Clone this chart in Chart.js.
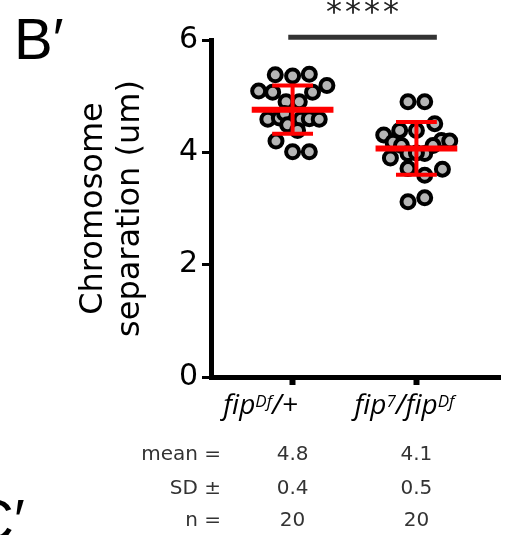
<!DOCTYPE html>
<html>
<head>
<meta charset="utf-8">
<script src="https://cdn.jsdelivr.net/npm/chart.js@4.4.0/dist/chart.umd.min.js"></script>
<style>
html, body { margin: 0; padding: 0; background: #fff; }
</style>
</head>
<body>
<canvas id="mycanvas" width="505" height="535"></canvas>
<script>
// categories (with superscript markup)
var categories = ['fip<sup>Df</sup>/+', 'fip<sup>7</sup>/fip<sup>Df</sup>'];

// chromosome separation (um)
var valuesA = [5.38, 5.36, 5.39, 5.09, 5.07, 5.07, 5.19, 4.90, 4.90, 4.59,
               4.61, 4.69, 4.59, 4.60, 4.59, 4.49, 4.39, 4.20, 4.01, 4.01];
var valuesB = [4.90, 4.90, 4.51, 4.39, 4.39, 4.31, 4.18, 4.12, 4.21, 4.20,
               4.12, 3.98, 3.98, 3.90, 3.71, 3.70, 3.59, 3.12, 3.19, 3.99];

// horizontal scatter of each dot (category units)
var jitterA = [-0.14, 0, 0.135, -0.274, -0.161, 0.161, 0.277, -0.053, 0.054, -0.2,
               -0.107, -0.065, 0.068, 0.135, 0.215, -0.04, 0.04, -0.134, 0, 0.135];
var jitterB = [-0.068, 0.067, 0.148, -0.135, 0, -0.264, -0.189, -0.121, 0.202, 0.269,
               0.134, -0.068, 0.067, -0.21, -0.068, 0.21, 0.067, -0.068, 0.067, 0];

var means = [4.76, 4.07];
var sds = [0.43, 0.47];
var yTicks = [0, 2, 4, 6];
var rowLabels = ['mean =', 'SD \u00b1', 'n ='];
var sigText = '****';
var sigBar = [0.965, 2.165];   // x range of significance bar
var sigLevel = 6.05;

var labelShift = [-32, -12];   // px, label centre vs tick

function toPoints(vals, jit, c) {
  var out = [];
  for (var i = 0; i < vals.length; i++) out.push({x: c + jit[i], y: vals[i]});
  return out;
}

function parseLabel(s) {
  var parts = [];
  var re = /<sup>(.*?)<\/sup>/g, last = 0, m;
  while ((m = re.exec(s)) !== null) {
    if (m.index > last) parts.push({t: s.slice(last, m.index), sup: false});
    parts.push({t: m[1], sup: true});
    last = re.lastIndex;
  }
  if (last < s.length) parts.push({t: s.slice(last), sup: false});
  return parts;
}

var mainFont = 'italic 28px "Open Sans", "Noto Sans", sans-serif';
var supFont = 'italic 17px "Open Sans", "Noto Sans", sans-serif';

var extras = {
  id: 'extras',
  afterDatasetsDraw: function(chart) {
    var ctx = chart.ctx, x = chart.scales.x, y = chart.scales.y;
    ctx.save();
    ctx.strokeStyle = '#ff0000';
    ctx.lineCap = 'butt';
    for (var i = 0; i < means.length; i++) {
      var c = i + 1;
      var px = x.getPixelForValue(c);
      var ym = y.getPixelForValue(means[i]);
      var yt = y.getPixelForValue(means[i] + sds[i]);
      var yb = y.getPixelForValue(means[i] - sds[i]);
      ctx.lineWidth = 4;
      ctx.beginPath();
      ctx.moveTo(px, yt); ctx.lineTo(px, yb);
      ctx.moveTo(x.getPixelForValue(c - 0.165), yt); ctx.lineTo(x.getPixelForValue(c + 0.165), yt);
      ctx.moveTo(x.getPixelForValue(c - 0.165), yb); ctx.lineTo(x.getPixelForValue(c + 0.165), yb);
      ctx.stroke();
      ctx.lineWidth = 6;
      ctx.beginPath();
      ctx.moveTo(x.getPixelForValue(c - 0.33), ym); ctx.lineTo(x.getPixelForValue(c + 0.33), ym);
      ctx.stroke();
    }
    ctx.restore();
  },
  afterDraw: function(chart) {
    var ctx = chart.ctx, x = chart.scales.x, y = chart.scales.y;
    ctx.save();

    // panel letters
    ctx.fillStyle = '#000';
    ctx.font = '58px "Liberation Sans", Arial, sans-serif';
    ctx.textAlign = 'left';
    ctx.textBaseline = 'alphabetic';
    ctx.fillText('B\u2032', 14, 59);
    ctx.fillText('C\u2032', -28, 540);

    // significance bar
    var x0 = x.getPixelForValue(sigBar[0]), x1 = x.getPixelForValue(sigBar[1]);
    var ys = y.getPixelForValue(sigLevel);
    ctx.strokeStyle = '#333';
    ctx.lineWidth = 5;
    ctx.beginPath();
    ctx.moveTo(x0, ys); ctx.lineTo(x1, ys);
    ctx.stroke();
    ctx.fillStyle = '#222';
    ctx.font = '32px "DejaVu Sans", sans-serif';
    ctx.textAlign = 'center';
    var mid = (x0 + x1) / 2;
    for (var k = 0; k < sigText.length; k++) {
      ctx.fillText(sigText[k], mid + (k - (sigText.length - 1) / 2) * 19, 22);
    }

    // category labels
    ctx.fillStyle = '#000';
    ctx.textAlign = 'left';
    for (var i = 0; i < categories.length; i++) {
      var parts = parseLabel(categories[i]);
      var w = 0;
      parts.forEach(function(p) {
        ctx.font = p.sup ? supFont : mainFont;
        p.w = ctx.measureText(p.t).width;
        w += p.w;
      });
      var cx = x.getPixelForValue(i + 1) + labelShift[i];
      var sx = cx - w / 2;
      parts.forEach(function(p) {
        ctx.font = p.sup ? supFont : mainFont;
        ctx.fillText(p.t, sx, p.sup ? 407 : 414);
        sx += p.w;
      });
    }

    // summary table
    ctx.fillStyle = '#333';
    ctx.font = '20px "DejaVu Sans", sans-serif';
    ctx.textBaseline = 'middle';
    var rowY = [455, 489, 521];
    var cols = [
      means.map(function(v) { return v.toFixed(1); }),
      sds.map(function(v) { return v.toFixed(1); }),
      [String(valuesA.length), String(valuesB.length)]
    ];
    for (var r = 0; r < rowLabels.length; r++) {
      ctx.textAlign = 'right';
      ctx.fillText(rowLabels[r], 221, rowY[r]);
      ctx.textAlign = 'center';
      for (var j = 0; j < categories.length; j++) {
        ctx.fillText(cols[r][j], x.getPixelForValue(j + 1), rowY[r]);
      }
    }
    ctx.restore();
  }
};

var dotStyle = {
  pointRadius: 6.5,
  pointHoverRadius: 6.5,
  pointBorderWidth: 4,
  pointBackgroundColor: '#b5b5b5',
  pointBorderColor: '#000',
  showLine: false
};

var ctx = document.getElementById('mycanvas');
var chart = new Chart(ctx, {
  type: 'scatter',
  data: {
    datasets: [
      Object.assign({label: 'A', data: toPoints(valuesA, jitterA, 1)}, dotStyle),
      Object.assign({label: 'B', data: toPoints(valuesB, jitterB, 2)}, dotStyle)
    ]
  },
  options: {
    responsive: false,
    animation: false,
    events: [],
    clip: false,
    layout: { autoPadding: false, padding: { left: 0, right: 5, top: 40, bottom: 0 } },
    plugins: { legend: { display: false }, tooltip: { enabled: false } },
    scales: {
      x: {
        type: 'linear',
        min: 0.341,
        max: 2.675,
        afterBuildTicks: function(axis) {
          axis.ticks = categories.map(function(c, i) { return {value: i + 1}; });
        },
        afterFit: function(axis) { axis.height = 158; },
        ticks: { display: false },
        grid: { display: true, drawOnChartArea: false, drawTicks: true, tickLength: 8, tickWidth: 6, tickColor: '#000' },
        border: { display: true, color: '#000', width: 5 }
      },
      y: {
        min: 0,
        max: 6,
        afterBuildTicks: function(axis) {
          axis.ticks = yTicks.map(function(v) { return {value: v}; });
        },
        afterFit: function(axis) { axis.width = 211; },
        ticks: {
          color: '#000',
          padding: 4,
          font: { family: '"DejaVu Sans", sans-serif', size: 30 }
        },
        grid: { display: true, drawOnChartArea: false, drawTicks: true, tickLength: 9, tickWidth: 3, tickColor: '#000' },
        border: { display: true, color: '#000', width: 5 },
        title: {
          display: true,
          text: ['Chromosome', 'separation (um)'],
          color: '#000',
          padding: { top: 75, bottom: 0 },
          font: { family: '"DejaVu Sans", sans-serif', size: 32, lineHeight: 1.16 }
        }
      }
    }
  },
  plugins: [extras]
});
</script>
</body>
</html>
